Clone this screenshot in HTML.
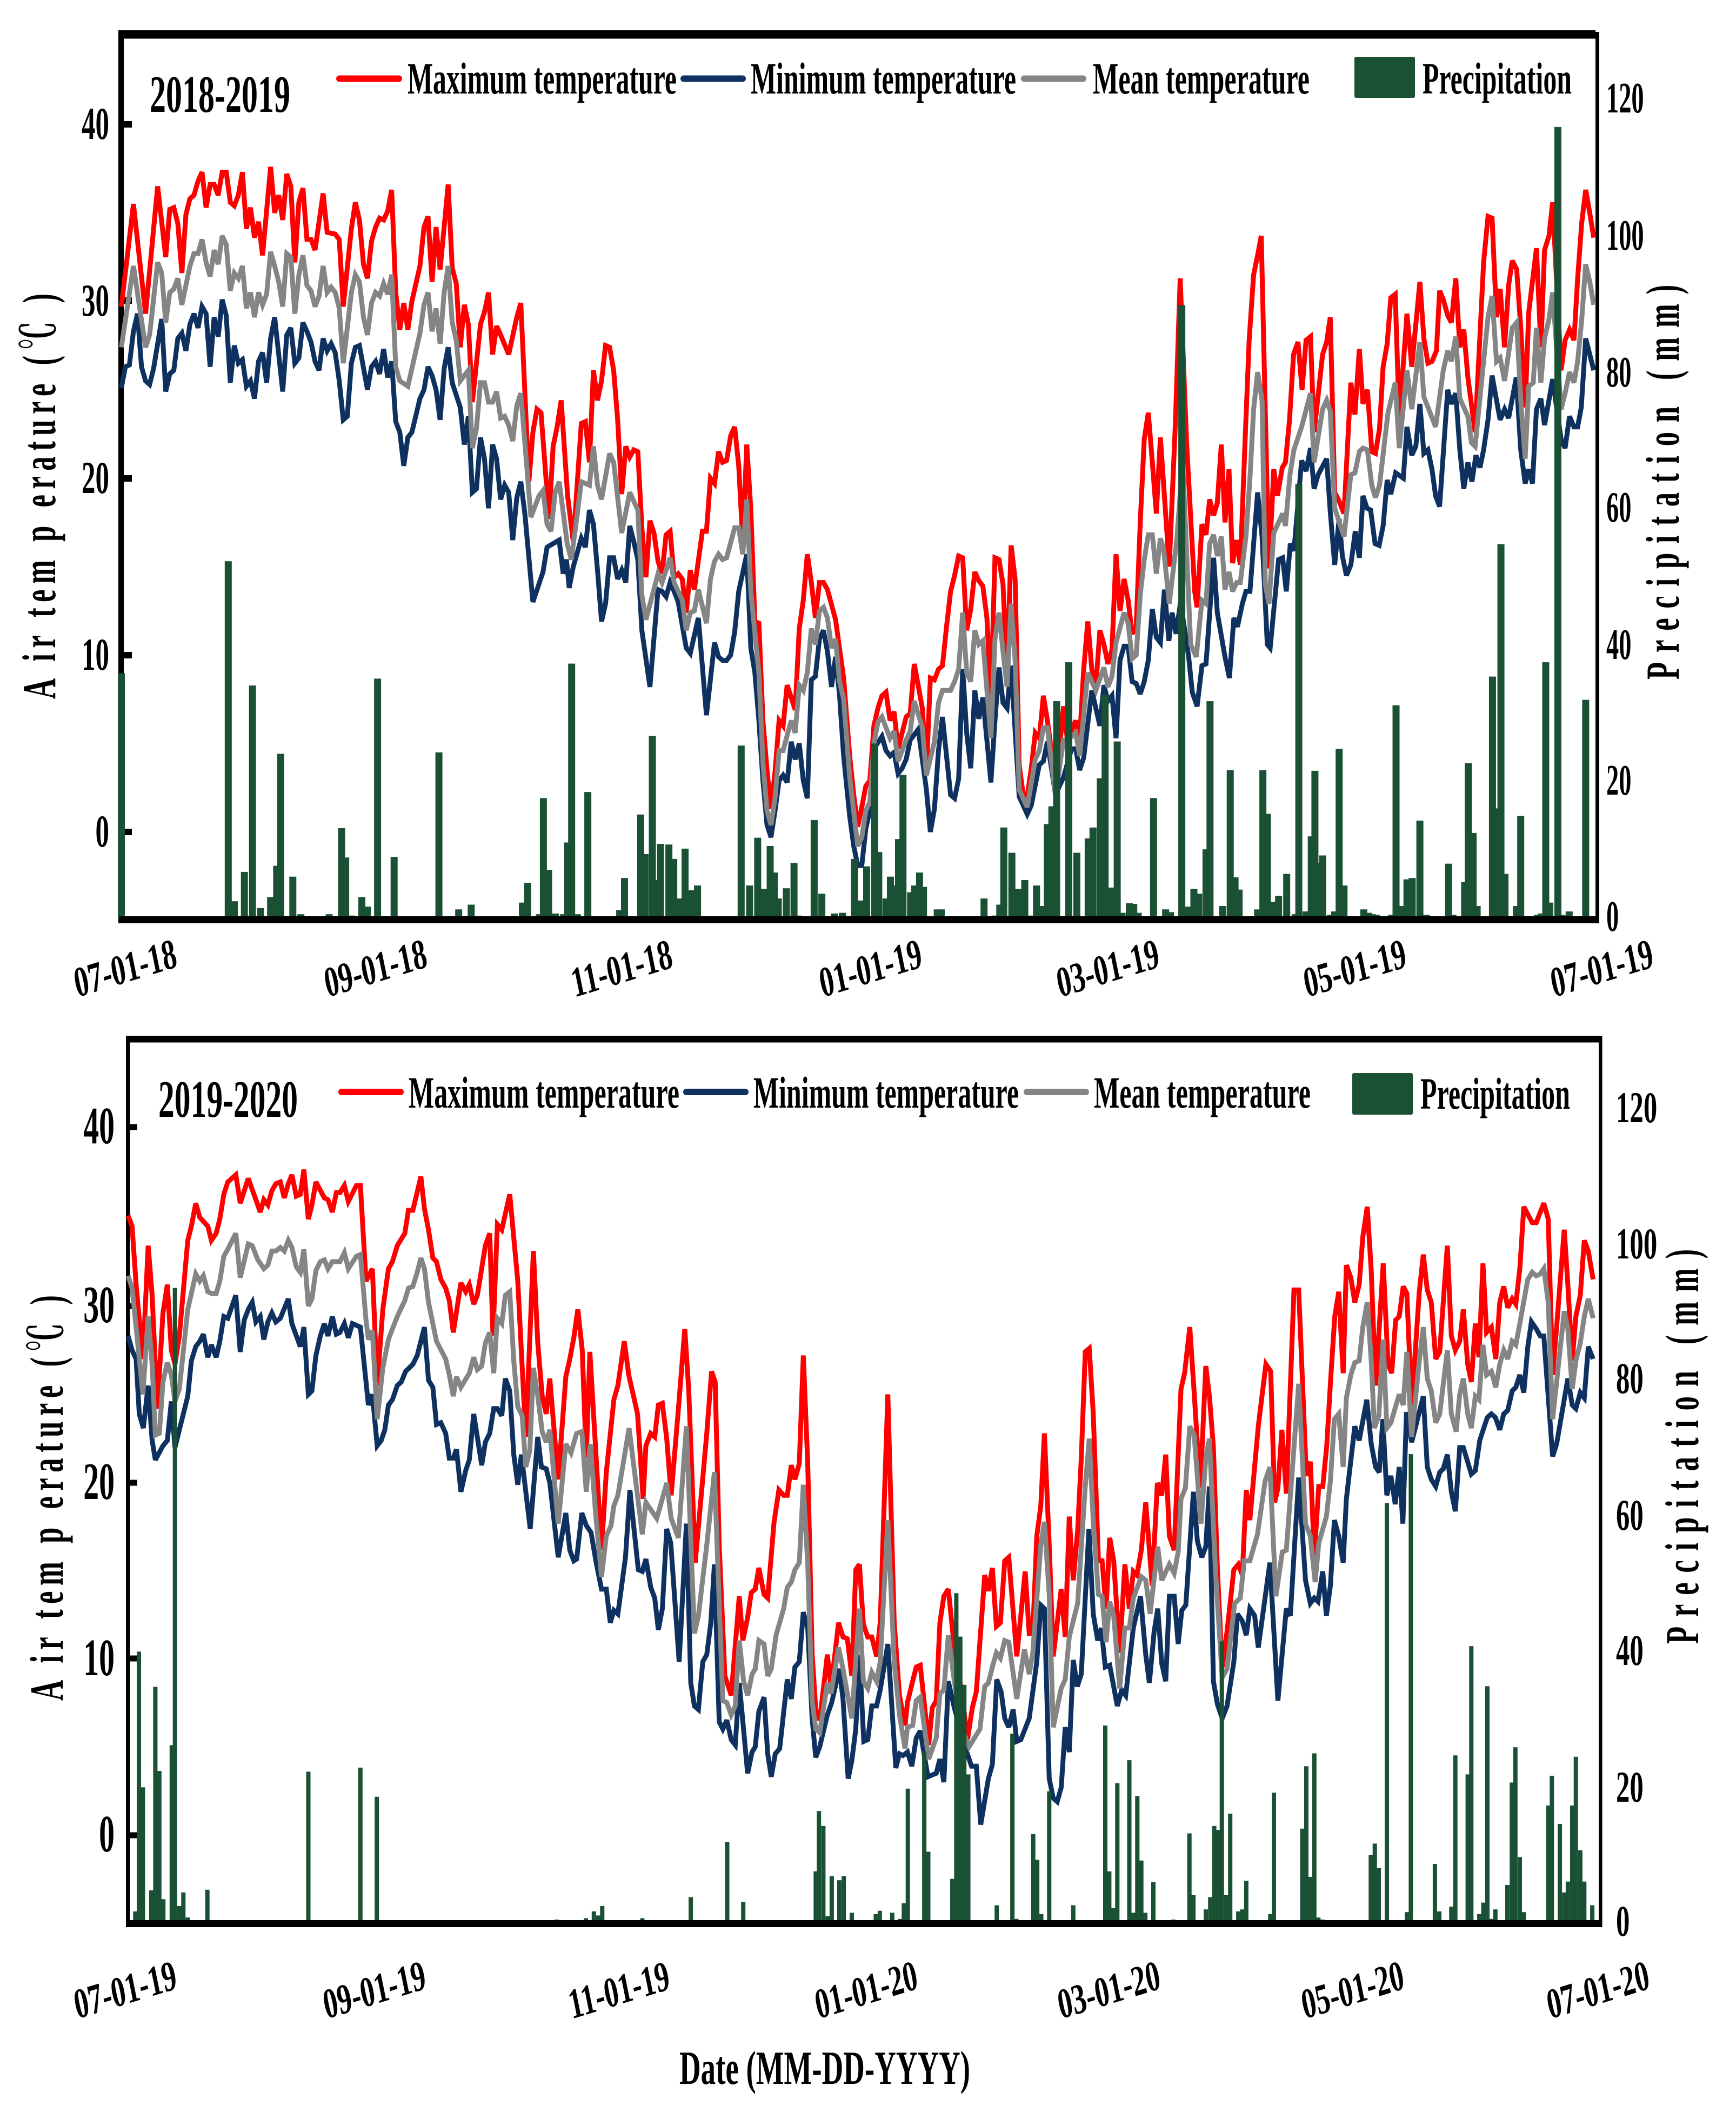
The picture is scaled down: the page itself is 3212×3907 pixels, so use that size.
<!DOCTYPE html>
<html lang="en">
<head>
<meta charset="utf-8">
<title>Air temperature and precipitation 2018-2020</title>
<style>
html,body{margin:0;padding:0;background:#fff}
svg{display:block}
text{font-family:"Liberation Serif","Noto Serif CJK SC",serif;font-weight:bold;fill:#000}
</style>
</head>
<body>
<svg id="chart" xmlns="http://www.w3.org/2000/svg" width="3212" height="3907" viewBox="0 0 3212 3907">
<rect x="0" y="0" width="3212" height="3907" fill="#fff"/>

<g id="panel1">
<rect x="219" y="56" width="10" height="1652" fill="#000"/>
<rect x="219" y="56" width="2733" height="15.5" fill="#000"/>
<rect x="2952" y="59" width="7" height="1649" fill="#000"/>
<rect x="229" y="224" width="15" height="12" fill="#000"/>
<rect x="229" y="550" width="15" height="12" fill="#000"/>
<rect x="229" y="879" width="15" height="12" fill="#000"/>
<rect x="229" y="1206" width="15" height="12" fill="#000"/>
<rect x="229" y="1533" width="15" height="12" fill="#000"/>
<g id="marks1"></g>
<rect x="221" y="1695" width="2738" height="13" fill="#000"/>
<g font-size="85" text-anchor="end">
<text transform="translate(202,257) scale(.6,1)">40</text>
<text transform="translate(202,584) scale(.6,1)">30</text>
<text transform="translate(202,912) scale(.6,1)">20</text>
<text transform="translate(202,1239) scale(.6,1)">10</text>
<text transform="translate(202,1566) scale(.6,1)">0</text>
</g>
<g font-size="80">
<text transform="translate(2972,208) scale(.58,1)">120</text>
<text transform="translate(2972,462) scale(.58,1)">100</text>
<text transform="translate(2972,715) scale(.58,1)">80</text>
<text transform="translate(2972,965) scale(.58,1)">60</text>
<text transform="translate(2972,1219) scale(.58,1)">40</text>
<text transform="translate(2972,1470) scale(.58,1)">20</text>
<text transform="translate(2972,1722) scale(.58,1)">0</text>
</g>
<g font-size="78">
<text transform="matrix(.655,-.2,.2,.986,143,1845)">07-01-18</text>
<text transform="matrix(.655,-.2,.2,.986,606,1845)">09-01-18</text>
<text transform="matrix(.655,-.2,.2,.986,1063,1845)">11-01-18</text>
<text transform="matrix(.655,-.2,.2,.986,1522,1845)">01-01-19</text>
<text transform="matrix(.655,-.2,.2,.986,1961,1845)">03-01-19</text>
<text transform="matrix(.655,-.2,.2,.986,2418,1845)">05-01-19</text>
<text transform="matrix(.655,-.2,.2,.986,2875,1845)">07-01-19</text>
</g>
<text font-size="88" transform="translate(102,1293) rotate(-90) scale(.6,1)" textLength="1250" lengthAdjust="spacing">A ir tem p erature (℃ )</text>
<text font-size="88" transform="translate(3106,1257) rotate(-90) scale(.6,1)" textLength="1217" lengthAdjust="spacing">Precipitation (mm)</text>
<text font-size="98" x="277" y="207" textLength="260" lengthAdjust="spacingAndGlyphs">2018-2019</text>
<g font-size="83">
<line x1="628" y1="145.500" x2="738" y2="145.500" stroke="#ff0000" stroke-width="12" stroke-linecap="round"/>
<text x="754" y="173" textLength="498" lengthAdjust="spacingAndGlyphs">Maximum temperature</text>
<line x1="1265" y1="145.500" x2="1374" y2="145.500" stroke="#0e3160" stroke-width="12" stroke-linecap="round"/>
<text x="1389" y="173" textLength="491" lengthAdjust="spacingAndGlyphs">Minimum temperature</text>
<line x1="1895" y1="145.500" x2="2004" y2="145.500" stroke="#858585" stroke-width="12" stroke-linecap="round"/>
<text x="2022" y="173" textLength="401" lengthAdjust="spacingAndGlyphs">Mean temperature</text>
<rect x="2506" y="105" width="112" height="76" rx="3" fill="#1a5033"/>
<text x="2632" y="173" textLength="276" lengthAdjust="spacingAndGlyphs">Precipitation</text>
</g>
</g>

<g id="panel2">
<rect x="233" y="1916" width="7.500" height="1649" fill="#000"/>
<rect x="233" y="1916" width="2731" height="12.500" fill="#000"/>
<rect x="2958" y="1916" width="6.500" height="1649" fill="#000"/>
<rect x="240" y="2079.500" width="14" height="11" fill="#000"/>
<rect x="240" y="2410.500" width="14" height="11" fill="#000"/>
<rect x="240" y="2737.500" width="14" height="11" fill="#000"/>
<rect x="240" y="3062.500" width="14" height="11" fill="#000"/>
<rect x="240" y="3389.500" width="14" height="11" fill="#000"/>
<g id="marks2"></g>
<rect x="233" y="3552" width="2731" height="13" fill="#000"/>
<g font-size="98" text-anchor="end">
<text transform="translate(212,2115) scale(.59,1)">40</text>
<text transform="translate(212,2446) scale(.59,1)">30</text>
<text transform="translate(212,2773) scale(.59,1)">20</text>
<text transform="translate(212,3099) scale(.59,1)">10</text>
<text transform="translate(212,3425) scale(.59,1)">0</text>
</g>
<g font-size="82">
<text transform="translate(2990,2076) scale(.62,1)">120</text>
<text transform="translate(2990,2328) scale(.62,1)">100</text>
<text transform="translate(2990,2577) scale(.62,1)">80</text>
<text transform="translate(2990,2830) scale(.62,1)">60</text>
<text transform="translate(2990,3080) scale(.62,1)">40</text>
<text transform="translate(2990,3333) scale(.62,1)">20</text>
<text transform="translate(2990,3581) scale(.62,1)">0</text>
</g>
<g font-size="78">
<text transform="matrix(.655,-.2,.2,.986,143,3735)">07-01-19</text>
<text transform="matrix(.655,-.2,.2,.986,604,3735)">09-01-19</text>
<text transform="matrix(.655,-.2,.2,.986,1058,3735)">11-01-19</text>
<text transform="matrix(.655,-.2,.2,.986,1514,3735)">01-01-20</text>
<text transform="matrix(.655,-.2,.2,.986,1963,3735)">03-01-20</text>
<text transform="matrix(.655,-.2,.2,.986,2414,3735)">05-01-20</text>
<text transform="matrix(.655,-.2,.2,.986,2868,3735)">07-01-20</text>
</g>
<text font-size="88" transform="translate(116,3146) rotate(-90) scale(.6,1)" textLength="1250" lengthAdjust="spacing">A ir tem p erature (℃ )</text>
<text font-size="88" transform="translate(3142,3041) rotate(-90) scale(.6,1)" textLength="1217" lengthAdjust="spacing">Precipitation (mm)</text>
<text font-size="98" x="293" y="2066" textLength="258" lengthAdjust="spacingAndGlyphs">2019-2020</text>
<g font-size="83">
<line x1="632" y1="2020" x2="741" y2="2020" stroke="#ff0000" stroke-width="12" stroke-linecap="round"/>
<text x="756" y="2049" textLength="501" lengthAdjust="spacingAndGlyphs">Maximum temperature</text>
<line x1="1270" y1="2020" x2="1379" y2="2020" stroke="#0e3160" stroke-width="12" stroke-linecap="round"/>
<text x="1394" y="2049" textLength="491" lengthAdjust="spacingAndGlyphs">Minimum temperature</text>
<line x1="1900" y1="2020" x2="2009" y2="2020" stroke="#858585" stroke-width="12" stroke-linecap="round"/>
<text x="2024" y="2049" textLength="401" lengthAdjust="spacingAndGlyphs">Mean temperature</text>
<rect x="2502" y="1985" width="112" height="77" rx="3" fill="#1a5033"/>
<text x="2628" y="2051" textLength="277" lengthAdjust="spacingAndGlyphs">Precipitation</text>
</g>
</g>

<text font-size="88" x="1257" y="3855" textLength="538" lengthAdjust="spacingAndGlyphs">Date (MM-DD-YYYY)</text>
</svg>

<script>
// Each reading is [days since 1 July, value]; temperatures in deg C, precipitation in mm.
const maxTemp1819 = [[0,29.7],[3,35.5],[6,29.3],[9,36.5],[11,32.5],[12,35.2],[13,35.3],[14,34.4],[15,31.6],[16,34.9],[17,35.8],[18,36],[19,36.8],[20,37.3],[21,35.3],[22,36.6],[23,36.6],[24,36],[25,37.3],[26,37.3],[27,35.6],[28,35.4],[29,36],[30,37.3],[31,34.1],[32,35.3],[33,33.6],[34,34.5],[35,32.6],[37,37.6],[38,35],[39,36],[40,34.6],[41,37.2],[42,36.5],[43,32.2],[44,35.6],[45,36.4],[46,33.5],[47,33.5],[48,32.9],[50,36.1],[51,33.9],[53,33.8],[54,33.5],[55,29.7],[57,34.1],[58,35.6],[59,34.6],[60,32.1],[61,31.3],[62,33.4],[63,34.2],[64,34.7],[65,34.6],[66,35.1],[67,36.3],[68,30.5],[69,28.4],[70,29.9],[71,28.4],[72,30],[74,32],[75,34.2],[76,34.8],[77,31.1],[78,34.2],[79,31.8],[81,36.6],[82,31.9],[83,31],[84,27.4],[85,29.8],[86,28.7],[87,24.3],[89,28.7],[90,29.4],[91,30.5],[92,27],[93,28.6],[94,28.1],[96,27],[98,29.1],[99,29.9],[101,19.8],[102,22.6],[103,23.9],[104,23.7],[106,17.7],[107,21.8],[108,22.9],[109,24.4],[110.6,19],[112,16.4],[114,23.1],[115,23.2],[116,20.9],[117,26.1],[118,24.4],[119,25.5],[120,27.5],[121,27.4],[122,26.1],[123,23.3],[124,19.1],[125,21.8],[126,21.2],[127,21.6],[128,21.5],[129,17.2],[130,14.4],[131,17.6],[132,16.9],[133,15.3],[134,14.6],[135,16.8],[136,17],[137,14.4],[138,14.6],[139,14.3],[140,12.4],[141,14.8],[142,13.7],[144,17],[145,17],[146,20],[147,19.7],[148,21.5],[149,20.9],[150,21],[151,22.4],[152,22.9],[153,20.7],[154,16.4],[155,21.9],[156,18.2],[157,11.9],[158,11.8],[159,6.3],[160,3.5],[161,1.3],[162,3.4],[163,6.3],[164,6],[165,8.3],[167,6.9],[168,11.5],[169,13.1],[170,15.7],[171,14.1],[172,12.1],[173,14.1],[174,14.1],[175,13.7],[177,12],[179,8.7],[180.5,4.3],[181.5,2.1],[182.5,0.3],[183.5,1.4],[184.5,2.6],[185.5,2.9],[186.5,6],[187.5,7],[188.5,7.7],[189.5,7.9],[190.5,6.3],[191.5,6.8],[192.5,4.7],[194.5,6.5],[195.5,6.7],[196.5,9.5],[198.5,7],[199.5,3.4],[200.5,8.7],[201.5,8.6],[202.5,9.2],[203.5,9.4],[204.5,11.6],[205.5,13.6],[206.5,14.5],[207.5,15.6],[208.5,15.5],[209.5,11.4],[210.5,12.6],[211.5,14.7],[212.5,14.2],[213.5,13.9],[214.5,12.1],[215.5,7.5],[216.5,15.5],[217.5,15.4],[218.5,14],[219.5,9],[220.5,16.2],[221.5,14.3],[222.5,3.8],[223.5,2.1],[224.5,2],[225.5,3.6],[226.5,5.6],[227.5,5.3],[228.5,7.7],[229.5,6.3],[230.5,4.6],[231.5,2.9],[232.5,4.7],[233.5,7.1],[234.5,5.1],[235.5,5.7],[236.5,6.3],[237.5,5.3],[238.5,9.2],[239.5,11.9],[240.5,9.2],[241.5,8.2],[242.5,11.4],[243.5,10.6],[244.5,9.5],[245.5,10.3],[246.5,15.7],[247.5,12.5],[248.5,14.3],[249.5,13.1],[250.5,11.2],[251.5,11.6],[252.5,17.5],[253.5,22.2],[254.5,23.7],[255.5,20.9],[256.5,18],[257.5,22.3],[259.7,15],[261.2,23],[262.4,31.3],[264,22],[266,13.6],[266.6,12.7],[267.8,17.4],[268.8,16.8],[269.7,18.8],[270.7,17.9],[271.6,18.6],[272.6,21.9],[273.5,17.5],[274.5,20.5],[275.4,15.2],[276.4,16.5],[277.3,15.1],[278.5,22.2],[279.5,27.8],[280.6,31.5],[281.6,32.6],[282.5,33.7],[284.4,14.9],[285.6,20.5],[286.5,19],[287.7,20.6],[288.5,20.9],[289.5,23.3],[290.5,27],[291.6,27.7],[292.6,25],[293.6,27.8],[294.7,28],[295.6,22.6],[297.7,27],[298.7,27.7],[299.6,29.1],[300.7,19.2],[301.8,18.7],[303,18],[304.7,25.4],[305.7,23.6],[306.8,27.3],[307.7,24.2],[308.8,25],[309.9,21.5],[310.8,21.4],[311.8,22.8],[312.7,26.3],[313.7,27.6],[314.6,30.2],[315.7,30.4],[316.7,23.3],[318.6,29.3],[319.8,26.3],[321.8,31.1],[322.8,27.9],[323.8,26.5],[324.8,26.6],[325.9,27.2],[326.7,30.6],[327.6,30.1],[328.7,29.2],[329.6,28.8],[330.7,31.3],[331.7,27.4],[332.7,28.4],[333.7,25.7],[335.5,22.6],[337.6,32.2],[338.7,34.8],[339.7,34.7],[340.8,29.1],[341.7,30.7],[342.8,27.4],[343.8,30.9],[344.7,32.3],[345.8,31.8],[346.8,28.5],[347.9,24],[348.8,29.4],[350.7,33],[351.8,27.4],[352.7,32.9],[353.8,33.7],[354.7,35.6],[356.8,26.1],[357.8,27.8],[358.9,28.4],[360,27.8],[360.9,31.3],[361.9,34.4],[362.9,36.3],[363.9,35],[364.9,33.6]];

const minTemp1819 = [[0,25.1],[1,26.3],[2,26.4],[3,28.3],[4,29.3],[5,26.3],[6,25.5],[7,25.3],[8,26.2],[10,29],[11,24.9],[12,25.9],[13,26.1],[14,27.9],[15,28.2],[16,27.2],[17,28.7],[18,29.3],[19,28.5],[20,29.7],[21,29.3],[22,26.3],[23,29.1],[24,28],[25,30.1],[26,29.2],[27,25.4],[28,27.5],[29,26.5],[30,26.7],[31,25.2],[32,25.5],[33,24.5],[34,26.6],[35,27.1],[36,25.4],[37,27.9],[38,29.1],[40,24.9],[41,28.1],[42,28.5],[43,26.5],[44,26.8],[45,28.8],[46,28.3],[47,27.7],[48,26.6],[49,26.1],[50,27.9],[51,27.2],[52,27.6],[53,27.1],[54,25.5],[55,23.3],[56,23.5],[57,26.5],[58,27.4],[59,27.5],[61,25],[62,26.3],[63,26.6],[64,25.9],[65,27.3],[66,25.7],[67,26.6],[68,23.2],[69,22.6],[70,20.7],[71,22.3],[72,22.6],[74,24.5],[75,25],[76,26.3],[77,25.8],[78,25],[79,23.3],[80,26.2],[81,27.4],[82,25.4],[84,24],[85,21.9],[86,23.5],[87,19.2],[88,19.4],[89,22.3],[90,21.1],[91,18.3],[92,21.9],[93,21.1],[94,18.8],[95,19.6],[96,19.2],[97,16.5],[98,18.9],[99,19.8],[100,18],[102,13],[104.5,14.7],[105.5,16.1],[108.5,16.5],[109.5,14.6],[110.3,15.4],[111,13.8],[112,15],[113,15.8],[114,16.6],[115,16.1],[116,18.2],[117,17.4],[118,14.8],[119,11.9],[120,12.9],[121,15.5],[122,15.5],[123,14.3],[124,14.8],[125,14.1],[126,17.3],[127,16.4],[128,15.4],[129,11.4],[131,8.2],[133,13.7],[134,13.6],[135,13.3],[136,14.1],[137,13.6],[138,13],[140,10.4],[141,10.1],[143,12.1],[145,6.6],[147,10.7],[148,9.9],[149,9.7],[150,9.7],[151,10],[152,11.3],[153,13.6],[155,15.7],[156,10.4],[157,9],[158,6.3],[159,2.9],[160,0.4],[161,-0.3],[162,1.2],[163,2.9],[164,3.2],[165,2.8],[166,5.1],[167,4.1],[168,5],[169,2.9],[170,1.9],[171,8.6],[172,8.8],[173,10.9],[174,11.4],[175,10.2],[176,8.2],[177,9.9],[178,7.7],[179,4.3],[180.5,0.9],[181.5,-0.8],[182.5,-1.9],[183.5,-1.9],[184.5,0.2],[185.5,1.2],[186.5,4.7],[188.5,5.4],[189.5,4.6],[190.5,4.3],[191.5,4.5],[192.5,3.3],[193.5,3.6],[194.5,4.1],[195.5,5.2],[197.5,5.8],[199.5,2.4],[200.5,0],[201.5,1.3],[202.5,4.6],[203.5,6.5],[205.5,2.1],[206.5,1.9],[207.5,3],[208.5,9.2],[209.5,5.6],[210.5,3.6],[211.5,8],[212.5,6.4],[213.5,7.6],[215.5,2.8],[216.5,6.3],[217.5,9.3],[218.5,7.3],[219.5,7],[220.5,9.4],[222.5,2],[223.5,1.5],[224.5,1],[225.5,1.5],[227.5,3.8],[228.5,4],[229.5,5.1],[231.5,2.1],[233.5,3.1],[235.5,4.7],[236.5,4.7],[237.5,3.5],[238.5,4.2],[240.5,8],[242.5,6],[243.5,8.3],[244.5,7.4],[245.5,7.7],[246.5,5.3],[247.5,9.7],[248.5,10.5],[249.5,10.5],[250.5,8.5],[251.5,8.4],[252.5,7.8],[253.5,8.5],[254.5,9.7],[255.5,12.6],[256.5,11],[257.5,10.7],[258.5,13.7],[259.6,10.8],[260.4,12.4],[261.4,11.2],[262.5,13],[264.5,9.9],[265.4,7.9],[266.6,7.1],[267.8,9.4],[268.8,9.5],[270.7,15.5],[271.6,12.4],[273.5,9.9],[274.6,8.7],[275.7,12.1],[276.6,11.6],[277.8,12.9],[278.7,13.6],[279.7,13.6],[281.6,19.2],[282.7,16.7],[284,10.6],[284.7,10.4],[286.8,15.4],[287.8,15.5],[288.7,13.6],[289.7,16.3],[290.6,15.9],[292.5,21],[293.6,20.4],[294.7,21.7],[295.6,19.4],[296.6,20.2],[298.7,21.1],[299.6,18.1],[300.7,15.1],[301.8,17.7],[302.6,15.6],[303.6,14.5],[304.7,15.1],[305.8,17],[306.8,15.5],[307.7,19],[308.7,18.3],[309.6,18.2],[310.7,16.3],[311.7,16.2],[312.7,17.3],[313.7,19.9],[314.6,19.1],[315.8,20.3],[317.7,20],[318.6,22.9],[319.8,21.3],[320.8,21.8],[321.8,24.2],[322.8,21.4],[323.8,21.6],[324.8,20.5],[325.7,19],[326.7,18.4],[328.7,25],[329.6,24.2],[330.7,24.8],[331.7,21.6],[332.7,19.4],[333.7,20.9],[334.7,19.8],[335.7,21.3],[336.7,20.6],[337.6,21.6],[338.7,23.3],[339.7,25.8],[340.8,24.4],[341.7,23.3],[342.8,23.9],[343.8,23.4],[345.7,25.7],[346.8,21.6],[347.9,19.7],[348.8,20.5],[349.7,19.7],[350.7,23.9],[351.8,24.5],[352.7,23],[354.7,25.6],[356.8,22.2],[357.8,21.7],[358.9,23.5],[360,22.9],[360.9,22.9],[361.8,24],[362.9,27.9],[364.9,26.1]];

const meanTemp1819 = [[0,27.4],[3,32],[6,27.4],[7,28.1],[9,32.2],[10,31.6],[11,28.8],[12,30.5],[13,30.7],[14,31.3],[15,29.8],[17,32],[18,32.7],[19,32.7],[20,33.5],[21,32.2],[22,31.4],[23,32.9],[24,32.1],[25,33.7],[26,33.2],[27,30.6],[28,31.6],[29,31.3],[30,32],[31,29.6],[32,30.5],[33,29.1],[34,30.5],[35,29.8],[36,30.4],[37,32.8],[38,32],[39,31.1],[40,29.7],[41,32.7],[42,32.5],[43,29.3],[44,31.5],[45,32.6],[46,30.9],[47,30.6],[48,29.7],[49,30.3],[50,32],[51,30.5],[52,30.8],[53,30.5],[54,29.6],[55,26.5],[57,30.5],[58,31.5],[59,31.1],[60,29.1],[61,28.1],[62,29.9],[63,30.5],[64,30.3],[65,31],[66,30.4],[67,31.5],[68,26.3],[69,25.5],[71,25.2],[74,28.2],[75,29.8],[76,30.5],[77,28.3],[78,29.6],[79,27.6],[80,30.5],[81,32],[82,28.8],[83,27.8],[84,25.5],[86,26.1],[87,21.7],[88,22.8],[89,25.4],[90,25.4],[91,24.3],[92,24.3],[93,24.9],[94,23.4],[95,23.5],[96,23],[97,22.1],[98,24.1],[99,24.8],[101.5,17.8],[103.5,19],[104.5,19.3],[105.5,17.4],[106.5,17],[107.5,19.2],[108.5,19.8],[110.5,16.3],[111.5,15.4],[113,18],[114,19.8],[116,19.6],[117,21.8],[118,19.6],[119,18.8],[121,21.4],[122,20.9],[124,16.9],[126,19.2],[128,18.2],[129,13.4],[130,12],[133,14.6],[134,14.1],[136,15.5],[137,14.1],[139,13.1],[140,11.4],[141,12.4],[142,12.5],[143,13.7],[145,11.8],[146,14.3],[147,15.3],[148,15.7],[149,15.4],[150,15.5],[152,17.2],[153,17.2],[154,15.7],[155,18.8],[156,13.6],[158,9],[159,3.9],[160,1.2],[161,0.4],[162,1.9],[163,4.6],[164,4.6],[166,6.3],[167,5.6],[168,8.3],[169,8],[170,9],[171,11.5],[172,10.6],[173,12.5],[174,12.7],[175,12.1],[176,10.4],[177,10.9],[178,8.5],[179,7.5],[180.5,3.1],[182.5,-0.8],[183.5,-0.3],[184.5,1.2],[185.5,1.7],[186.5,5],[187.5,6.2],[188.5,6.5],[190.5,5.3],[191.5,5.7],[192.5,4],[194.5,5.2],[195.5,5.7],[196.5,7.4],[198.5,5.9],[199.5,3.2],[201.5,5.1],[202.5,7.3],[203.5,8],[205.5,8],[206.5,8.5],[207.5,9.2],[208.5,12.4],[209.5,9],[210.5,8.5],[211.5,11.4],[212.5,10.6],[213.5,10.8],[215.5,5.3],[216.5,10.9],[217.5,12.4],[218.5,10.2],[219.5,8.2],[220.5,12.9],[221.5,9.7],[222.5,2.4],[224.5,1.4],[226.5,4.1],[227.5,4.6],[228.5,5.9],[229.5,5.9],[231.5,2.1],[233.5,5.2],[234.5,5.2],[236.5,5.6],[237.5,4.3],[239.5,9],[241.5,8],[243.5,9.3],[244.5,8.2],[245.5,8.8],[246.5,10.7],[248.5,12.4],[249.5,11.8],[250.5,9.8],[251.5,10],[252.5,13.4],[253.5,15.4],[254.5,16.8],[255.5,16.8],[256.5,14.6],[257.5,16.6],[258.3,16],[259.7,12.9],[261.6,16.6],[263,21],[265,10.6],[266.4,9.9],[267.8,13.1],[268.8,12.9],[269.7,16.3],[270.7,16.8],[271.6,15.6],[272.6,16.7],[273.5,13.7],[274.5,14.7],[275.4,13.6],[276.4,14.1],[277.3,14.1],[278.7,16.7],[279.7,20],[280.6,23.9],[281.6,26],[282.7,24.4],[283.5,14],[284.4,12.9],[285.6,16.9],[287.8,18],[288.5,17.3],[289.6,20.2],[290.6,21.6],[292.5,22.9],[294.7,24.8],[295.6,20.9],[297.7,23.9],[298.7,24.4],[299.6,23.8],[300.7,18.3],[303,16.7],[304.7,20.2],[305.7,20.3],[306.8,21.5],[307.7,21.7],[308.8,21.6],[309.9,19.6],[310.8,18.9],[311.8,19.6],[313.9,23.7],[315.7,25.4],[316.7,21.7],[318.6,26.1],[319.8,23.9],[321.8,27.7],[322.8,24.6],[325.7,22.9],[327.6,26.1],[328.7,27.2],[329.6,26.6],[330.7,28],[331.7,24.5],[333.7,23.5],[334.6,22],[335.5,21.8],[337.6,26.6],[338.7,29.1],[339.7,30.3],[340.8,26.6],[341.7,26.8],[342.8,25.5],[344.7,28.5],[345.8,28.8],[346.8,24.4],[347.9,21.1],[348.8,25.2],[349.9,25.4],[350.7,28.5],[351.8,25.4],[352.7,27.9],[353.8,29],[354.7,30.5],[356.8,23.9],[357.8,24.8],[358.9,26],[360,25.4],[360.9,26.6],[361.9,28.9],[362.9,32.1],[363.9,31.1],[364.9,29.8]];

const precip1819 = [[0,36],[26.5,52.4],[28,2.6],[30.5,6.9],[32.5,34.2],[34.5,1.6],[37,3.2],[38.5,7.8],[39.5,24.2],[42.5,6.2],[44.5,0.7],[51.5,0.7],[54.6,13.3],[55.6,9],[57,0.5],[59.6,3.2],[61,1.8],[63.5,35.2],[67.6,9.1],[78.7,24.4],[83.6,1.4],[86.7,2.1],[99.4,2.4],[100.7,5.3],[103.6,0.7],[104.6,17.7],[105.9,7.2],[107.6,0.8],[109.6,0.7],[110.6,11.2],[111.6,37.4],[113,0.7],[115.6,18.6],[123.5,1.3],[124.7,6],[128.7,15.3],[129.8,9.5],[131.6,26.8],[132.7,5.7],[133.6,11],[135.7,10.9],[136.9,8.8],[138,3],[139.7,10.3],[141.3,4.2],[142.8,4.9],[153.6,25.4],[155.7,4.9],[157.7,11.9],[159.3,4.4],[160.8,10.7],[161.8,6.8],[162.8,3],[164.8,4.5],[166.7,8.2],[167.7,0.5],[171.7,14.5],[173.6,3.7],[176.7,0.8],[178.7,0.9],[181.7,8.8],[183.4,2.7],[184.7,7.7],[186.7,25.7],[187.7,9.8],[189.5,3],[190.6,6.2],[191.6,4.9],[192.6,11.7],[193.7,21.1],[195.6,3.9],[196.6,4.9],[197.8,6.8],[198.8,4.7],[202.2,1.4],[203.2,1.4],[213.8,3],[216.6,0.5],[217.7,2.1],[218.7,13.4],[220.7,9.7],[222.4,4.4],[223.9,5.7],[225.4,0.5],[226.8,4.9],[228.4,1.9],[229.5,13.9],[230.6,16.5],[231.8,31.9],[234.8,37.6],[236.8,9.7],[239.6,11.8],[240.8,13.4],[242.6,20.6],[243.8,32.8],[245.1,4.6],[246.8,26],[248,0.9],[249.8,2.3],[250.9,2.2],[252,0.9],[255.8,17.7],[258.8,1.4],[260,1],[262.8,89.9],[264.5,1.8],[265.8,4.4],[267,3.7],[268.8,10.2],[269.8,31.9],[272.9,1.9],[274.8,21.8],[276,6.1],[277,4.3],[281.6,1.4],[282.9,21.8],[284,15.4],[285.6,2.5],[286.8,3.4],[288.8,6.6],[290.9,0.7],[291.8,63.7],[293.6,1.1],[294.9,12.1],[295.8,21.7],[296.8,8.2],[297.7,9.3],[299.6,0.6],[300.7,1.1],[301.8,24.9],[303,4.9],[307.9,1.4],[309,0.9],[310,0.7],[311,0.6],[314.8,0.6],[315.9,31.3],[317.4,1.9],[318.6,5.8],[319.9,6],[321.8,14.4],[323.4,0.6],[328.9,8.1],[330,0.6],[332.9,5.4],[333.8,22.8],[335,12.6],[336,1.9],[339.8,35.5],[341,16.2],[341.9,54.9],[342.9,6.6],[345.7,1.9],[346.8,15.1],[351,0.6],[351.9,0.8],[353,37.6],[354,2.4],[356,116],[357,0.6],[358.8,1.1],[362.9,32.1]];

const maxTemp1920 = [[0,35],[1,34.4],[2,31.1],[3.7,26.9],[5,33.3],[6,30.5],[7.3,24.1],[8.7,29.5],[9.8,31.1],[10.8,27.4],[11.7,26.6],[12.8,28.2],[14.9,33.6],[15.8,34.4],[16.9,35.7],[17.9,34.9],[19.9,34.4],[20.8,33.6],[22,34],[22.9,34.8],[23.9,36.2],[24.9,36.9],[26.9,37.3],[28,35.7],[30,37.1],[31.9,35.9],[33,35.2],[33.9,35.9],[34.9,35.6],[35.9,36.4],[36.9,36.8],[38,36.9],[39,36],[40,36.8],[40.9,37.3],[42,36.1],[43,36.2],[43.9,37.6],[45,34.8],[45.9,35.6],[46.9,36.9],[49,36],[49.9,35.9],[51,35.2],[52,36.3],[52.9,36.3],[54,36.7],[55,35.8],[57,36.7],[58,36.7],[59.4,31.3],[61,32],[62.2,25.4],[63.6,29.7],[65,32],[66,32.4],[67.2,33.3],[69.1,34],[70,35.3],[71.1,35.3],[73.1,37.2],[74,35.4],[75,34.2],[76.1,32.6],[77,32.4],[78.1,31.4],[79.3,30.9],[80.2,30.2],[81.2,28.4],[83.1,31.2],[84.3,30.7],[85.2,31.1],[86.3,30],[87.2,30.5],[89.2,33.3],[90.3,34],[91.1,28.2],[92.2,34.5],[93.3,34.2],[95.3,36.2],[97.3,31.3],[99.3,22.5],[101.2,33],[102.3,27.8],[103.4,24.8],[104.4,23.8],[105.3,25.8],[107.4,20.1],[109.3,25.9],[110.3,26.9],[111.3,28.1],[112.3,29.7],[113.4,27.4],[114.4,21.3],[115.3,27.3],[116.8,21.6],[118.2,16.1],[119.4,20.5],[121.3,24.6],[122.3,25.4],[123.9,27.9],[125,26],[127.2,23.8],[128.6,19],[129.3,22],[130.5,22.7],[131.5,22.5],[132.4,24.3],[133.4,24.4],[134.5,22.4],[135.6,19.2],[137.6,24.6],[139,28.6],[140,25.1],[141.6,15.4],[143.3,19.7],[144.5,22.7],[145.7,26.2],[146.6,25.6],[147.6,16.4],[149,9],[150.6,7.9],[152.6,13.5],[153.5,11],[154.7,12.3],[155.6,13.7],[156.6,13.9],[157.5,15.1],[158.8,13.6],[159.7,13.4],[161.3,17.7],[162.5,19.5],[163.7,19.2],[164.6,19.2],[165.6,20.9],[166.5,20.1],[167.6,21],[168.6,27.1],[169.7,21],[170.8,10.3],[171.7,7.1],[172.7,6.5],[174.6,10.2],[175.5,8.3],[177.4,12],[178.5,11.2],[179.6,11.1],[180.7,9],[181.7,15],[182.6,15.3],[183.6,11.9],[184.7,11.2],[185.7,11.2],[186.9,10.1],[187.8,12],[189.7,24.9],[191.3,12],[192.6,7.9],[194,6.2],[194.6,7.5],[195.9,8.7],[196.8,9.5],[197.8,9.6],[199.9,5.1],[200.8,7.2],[201.8,7.6],[202.7,12],[203.7,13.5],[204.8,13.9],[206.3,10.6],[208.2,8],[209.6,5.4],[210.8,7.2],[211.8,8.1],[213.9,14.7],[214.8,13.8],[215.8,15.1],[216.8,11.8],[217.8,12],[218.9,15.5],[219.9,15.7],[221.9,10.1],[224,14.9],[225,11.4],[225.9,11.4],[226.9,16.9],[227.9,18.6],[228.8,22.7],[230,16.4],[231,10.1],[233,13.9],[234,11.2],[235,18],[236,14.4],[237.1,17.2],[238,21.3],[239,27.3],[240,27.5],[241,23.8],[242.3,15.5],[243.2,15.5],[244.2,12.8],[245.1,16.8],[246.1,15.5],[247.6,10.3],[248.9,15.3],[250,12.8],[251,14.9],[251.9,14.7],[253,16.1],[254.1,18.8],[255.7,14.1],[257,19.9],[258.1,19.2],[259.1,21.5],[260,16.9],[261.2,16.1],[262.9,25.2],[263.8,26.1],[265.1,28.7],[266.2,25],[267.7,19.6],[269.1,26.5],[270,24.8],[271,21.9],[272,15],[273.2,9.5],[274.4,11.5],[276.1,15],[277.2,15.3],[278.2,14.7],[279.2,19.5],[280.1,17.8],[282.2,23.1],[284.1,26.6],[285.3,26.2],[286.3,18.8],[287.1,19.6],[288.1,22.9],[289.2,19.3],[291.1,30.8],[292.3,30.8],[294.2,20.3],[295.2,21.1],[296.2,15.8],[297.3,19.7],[298.3,19.7],[299.3,22],[300.2,25.5],[301.3,29.3],[302.3,30.7],[303.4,26.1],[304.2,32.2],[305.3,31.5],[306.3,30.1],[307.4,31.1],[308.3,33.8],[309.4,35.5],[310.4,31.9],[311.5,25.4],[313.4,32.3],[314.6,26.6],[315.5,26.1],[316.5,29.1],[317.4,29.3],[318.4,31],[319.3,30.6],[320.5,24.3],[322.4,30.7],[323.4,32.8],[324.4,30.8],[325.4,30.1],[326.5,26.9],[327.5,27.3],[329.4,33.3],[330.4,28.2],[331.4,27.4],[332.5,27.9],[333.4,29.7],[334.5,26.6],[335.4,25.6],[336.4,28.9],[337.3,27],[338.3,32.3],[339.2,28.4],[340.4,28.7],[341.5,26.9],[342.5,30.1],[343.5,31],[344.5,29.8],[345.6,30.3],[346.5,30],[347.5,32],[348.5,35.5],[350.6,34.6],[351.6,34.6],[353.5,35.7],[354.6,34.8],[355.7,26],[356.7,28.7],[358.6,34.2],[359.5,31.1],[360.6,26.8],[361.5,29.3],[362.6,30.5],[363.6,33.6],[364.6,33],[365.8,31.4]];

const minTemp1920 = [[0,28.2],[1,27.4],[2,26.9],[2.8,23.8],[3.8,23],[5,25.4],[6,22.3],[6.8,21.2],[8.7,22],[9.8,22.3],[10.8,24.5],[11.7,21.9],[14.9,24.8],[15.8,26.8],[16.9,27.6],[17.9,27.9],[18.8,28.3],[19.9,27],[20.8,27.7],[22,27],[22.9,27.9],[23.9,29.3],[24.9,29.2],[26.9,30.5],[28,27.3],[29,29.1],[30,29.7],[31,30.1],[31.9,29],[33,29.3],[33.9,28],[34.9,29],[35.9,29.5],[36.9,29],[38,29.2],[40,30.3],[40.9,28.9],[43,27.6],[43.9,28.7],[45,24.9],[45.9,25.1],[46.9,27.1],[48,28.2],[49,28.9],[49.9,28.2],[51,29.3],[52,28.3],[52.9,28.4],[54,28.9],[55,28.1],[56,28.9],[58,28.7],[60,24.3],[61,24.9],[62.2,22],[63.2,22.3],[64.1,22.9],[65,24.3],[66,24.6],[67.2,25.4],[68.2,25.6],[69.3,26.2],[71.1,26.6],[72.2,27.1],[74,28.7],[75,25.7],[76.1,25.3],[77,23.2],[78.1,23.3],[79.3,22.7],[80.2,21.3],[81.2,21.3],[82,21.8],[83.1,19.4],[84.3,20.6],[85.2,21.2],[86.3,23.8],[88.3,20.9],[89.2,22.2],[90.3,22.7],[91.3,24.1],[92.2,24.1],[93.3,23.7],[94.2,25.8],[95.3,25.1],[96.3,21.5],[97.3,19.8],[98.2,21.5],[100.4,17.3],[102.3,22.5],[103.2,20.8],[104.4,20.7],[105.3,19.9],[107.4,15.7],[109.3,18.2],[110.3,16.1],[111.3,15.5],[112,15.6],[113.3,18.2],[114.4,17.5],[115.6,17.1],[116.8,15.5],[118.2,13.9],[119.4,13.9],[120.4,12],[121.3,12.7],[122.3,12.5],[124.2,15.7],[125.3,19.5],[127.4,15],[128.4,14.9],[129.3,15.6],[130.5,14],[131.5,13.4],[132.4,11.6],[133.4,12.8],[134.5,17.3],[135.5,16.5],[137.6,9.8],[139.4,17.6],[140.5,8.6],[141.4,7.3],[142.4,7.1],[143.5,9.8],[144.5,10.2],[145.5,12],[146.4,15.3],[147.6,6.4],[148.5,6],[149.5,6.5],[150.6,5.4],[151.6,5.1],[152.6,8.6],[154.7,3.5],[155.8,4.7],[156.6,5],[157.5,7],[158.8,7.8],[159.7,4.6],[160.6,3.3],[161.6,4.6],[162.7,4.9],[164.6,8.8],[165.6,7.7],[166.5,9.5],[167.6,9.8],[168.6,12.6],[169.7,11.7],[170.8,6.6],[171.7,4.4],[172.7,5],[174.6,6.8],[175.7,7.5],[177.6,9.4],[178.5,7.7],[179.8,3.2],[180.7,4.2],[181.7,6],[182.6,10.2],[183.7,5.3],[184.7,5.4],[185.7,7.3],[186.9,7.3],[187.8,8.2],[189.7,10.8],[191.7,3.8],[192.6,4.6],[193.5,4.5],[194.6,4.7],[195.7,3.9],[196.8,5.5],[197.8,5.9],[199.7,3.3],[201.8,3.5],[202.7,4.3],[203.7,3],[204.8,8.7],[206.3,7.2],[209.1,4.9],[210.6,3.9],[211.8,3.9],[212.9,0.6],[214.8,3.2],[215.8,4],[216.9,8.8],[218,8.1],[218.9,6.6],[219.9,6.1],[221,7.1],[221.9,5.3],[222.9,5.4],[225,6.6],[226.9,9.8],[227.9,13],[228.8,12.8],[230,3.2],[231,2.1],[232,1.9],[233,2.7],[234,6.1],[235,4.7],[236,9.9],[237,8.4],[238,9.1],[239.9,17.3],[241,12.5],[242.1,11],[243,11.7],[244,9.5],[245.1,9.6],[247,7.3],[248.1,8.2],[249.1,7.9],[251,11.7],[252.8,13.5],[254.1,10.2],[255,8.6],[256.2,11.5],[257.1,12.8],[258.1,9.7],[259.1,8.7],[260,13.5],[261.2,13.5],[262.2,10.8],[263.1,12.7],[264.1,13],[266,19.4],[267,16.6],[268.1,15.7],[269.1,16.3],[270,19.7],[271,8.7],[272,7.4],[273.2,6.6],[274.4,7.3],[276.1,9.8],[277,12.5],[278.2,12.1],[279.2,11.3],[280.1,12.8],[281.3,12.4],[282.2,10.6],[285.1,15.4],[287.1,7.6],[289.2,12.8],[290.2,12.4],[292.3,20.2],[294,14.4],[295.2,13.1],[296.2,13.4],[297.1,13.2],[298.3,14.9],[299.2,12.4],[300.2,14.1],[301.2,17.8],[302.3,16.9],[303.4,15.4],[304.2,19],[306.3,23.1],[307.4,22.3],[309.3,24.6],[310.4,22.1],[311.5,20.8],[312.4,20.5],[313.3,23.5],[314.3,19.2],[315.3,20.3],[316.4,18.7],[317.4,20.8],[318.3,17.6],[319.2,23.9],[320.5,22.2],[322.4,23.9],[323.4,24.8],[324.4,20.8],[325.4,20.1],[326.5,19.7],[327.5,20.5],[328.4,20.7],[329.4,21.5],[330.4,19.4],[331.4,18.3],[332.5,21.9],[333.4,21.9],[335.4,20.4],[336.4,20.6],[337.5,22.3],[338.5,23],[339.4,23.6],[340.4,23.8],[341.4,23.6],[342.5,22.9],[343.5,23.8],[344.5,24],[345.6,25.1],[346.5,25.3],[347.5,26],[348.5,25],[349.5,27.6],[350.4,29],[351.6,28.6],[352.6,28.2],[353.5,28.2],[355.7,21.4],[356.7,22.1],[359.5,25.8],[360.6,24.3],[361.5,24.1],[362.6,25],[363.6,24.7],[364.6,27.6],[365.8,26.9]];

const meanTemp1920 = [[0,31.6],[1,30.9],[2,28.7],[3.7,24.9],[5,29.3],[6,26.6],[6.8,22.6],[7.8,22.7],[8.7,25.6],[9.8,26.7],[10.8,26],[11.7,24.5],[12.8,25.2],[14.9,29.7],[16.9,31.7],[17.9,31.3],[18.8,31.6],[19.9,30.7],[20.8,30.6],[22,30.6],[22.9,31.3],[23.9,32.7],[24.9,33.1],[26.9,34],[28,31.5],[30,33.4],[31,33.3],[32.4,32.5],[33.9,32],[34.9,32.2],[35.9,33],[36.9,33],[38,33.2],[39,33],[40,33.6],[40.9,33.2],[42,32.1],[43,31.8],[43.9,33.1],[45,29.9],[45.9,30.3],[46.9,31.9],[48,32.4],[49,32.5],[49.9,32],[51,32.4],[52.9,32.4],[54,32.9],[55,32],[57,32.7],[58,32.8],[59.4,29.1],[60,28],[61,28.5],[62.2,23.5],[63.6,26.4],[65,28],[66,28.6],[67.2,29.3],[69.1,30.2],[70,30.9],[71.1,31],[72.2,31.8],[73.1,32.6],[74,32],[75,30.1],[77,27.9],[79.3,26.9],[80.2,26],[81.2,24.8],[82,25.9],[83.1,25.3],[85.2,26.1],[86.3,27],[87.2,26.3],[88.3,26.5],[89.2,27.8],[90.3,28.4],[91.3,26.1],[92.2,29.2],[93.3,28.9],[94.2,30.5],[95.3,30.7],[96.3,26.8],[97.3,24.2],[98.4,23.7],[99.3,20.8],[100.3,21.7],[101.2,26.4],[102.3,24.8],[103.4,22.8],[104.4,22.2],[105.3,22.9],[107.4,17.6],[109.3,22.1],[110.6,21.6],[112,22.7],[113.3,22.8],[114.4,19.4],[115.4,22.1],[116.8,18],[118.2,14.6],[119.4,16.9],[120.6,17.5],[121.3,18.6],[122.3,19.2],[125.1,23],[128.4,17],[129.3,18.8],[132,17.9],[132.9,18.6],[134.5,19.9],[135.6,17.9],[137.4,16.8],[139.4,23.1],[141.4,11.4],[142.4,12.4],[144.5,16.4],[146.4,20.5],[148.5,7.6],[149.5,7.5],[150.6,6.8],[151.6,7.3],[152.6,11],[153.7,8.7],[154.7,7.9],[155.8,9.1],[156.6,9.4],[157.5,11],[158.8,10.8],[159.7,9],[160.6,9.4],[161.8,11.3],[163.7,12.8],[164.6,14],[165.6,14.3],[166.5,15],[167.6,15.4],[168.6,19.8],[169.7,15.3],[170.8,7.6],[171.7,6],[172.7,5.8],[174.6,8.6],[175.5,8],[177.4,10.6],[178.5,9.4],[180.7,6.6],[182.6,12.8],[183.6,8.7],[184.7,8.3],[185.7,9.2],[186.9,8.7],[187.8,9.8],[189.7,17.8],[191.3,9.8],[192.6,6.8],[194,4.9],[194.6,6.1],[195.9,6.2],[196.8,7.6],[197.8,7.8],[199.9,4.3],[201.8,5.5],[202.7,8],[203.7,8.2],[204.8,11.3],[206.3,8.7],[208.2,6],[210,5],[212.7,6],[213.9,8.4],[214.8,8.6],[215.8,9.5],[216.8,10.3],[217.8,10],[218.9,11],[219.9,10.9],[221.9,7.7],[223.8,10.5],[225,9.1],[225.9,10.3],[227.9,16.4],[228.8,17.7],[230,13.6],[231,6.1],[233,8.3],[234,8.8],[235,11.2],[237.1,13.1],[239,19.7],[240,22.4],[241,17.7],[242.3,13.6],[243.2,13.5],[244.2,10.9],[245.1,13.2],[246.1,12.4],[247.6,8.3],[248.9,11.7],[250,11.7],[251,13.4],[253,14.6],[254.1,14.4],[255.2,12.5],[257.1,16.3],[258.1,14.4],[260,15.3],[261.2,14.8],[262.2,16],[262.9,19],[264,19.6],[265.1,23.1],[266.2,22.6],[267.9,17.6],[269.1,21.3],[270,22.4],[271.5,15],[273.2,8.9],[274.4,9.4],[276.3,13.1],[277.7,13.4],[278.7,15.5],[280.1,15.5],[282,17],[283.9,20],[285.1,20.8],[286.6,13.5],[288.2,16],[289.2,16.1],[292.3,25.5],[294,17.6],[295.2,16.9],[296.4,14.3],[297.3,16.5],[299.2,18],[300.2,20],[301.2,23.5],[302.3,23.8],[303.4,20.8],[304.2,24.7],[305.3,26],[306.3,26.7],[307.4,26.8],[308.3,28.7],[309.4,30.1],[310.4,26.8],[311.2,23],[312.3,23.7],[313.4,28],[314.3,23],[315.3,23.3],[317.4,24.9],[318.4,24.3],[319.3,27.3],[320.5,22.5],[322.4,26.8],[323.4,28.7],[324.4,25.8],[325.4,25.1],[326.5,23.3],[327.5,23.8],[329.4,27.4],[330.4,23.8],[331.6,22.8],[332.5,24.9],[333.4,25.8],[334.5,23.8],[335.4,23],[336.4,24.8],[337.3,24.6],[338.3,27.7],[339.2,26],[340.4,26.2],[341.5,25.3],[342.5,26.6],[343.5,27.4],[344.5,26.9],[345.6,27.9],[346.5,27.7],[347.5,28.9],[349.5,31.4],[350.6,31.8],[351.6,31.6],[352.6,31.7],[353.5,32],[354.6,30.1],[355.7,23.5],[358.6,29.6],[359.5,28.6],[360.6,25.2],[361.5,26.8],[362.6,27.8],[363.6,29.3],[364.6,30.3],[365.8,29.2]];

const precip1920 = [[1.8,1.6],[2.7,39.9],[3.7,19.9],[4.8,0.3],[5.8,4.7],[6.8,34.7],[7.8,22.3],[8.8,3.4],[10.9,26.1],[11.7,93.5],[12.8,2.4],[13.8,4.4],[14.9,0.7],[19.8,4.8],[35.9,0.3],[45,22.2],[58,22.8],[59,0.3],[62.1,18.5],[63.1,0.3],[102,0.3],[104,0.2],[107,0.4],[114.3,0.6],[116.3,1.6],[117.4,1],[118.4,2.4],[128.4,0.6],[135.4,0.3],[140.5,3.7],[149.6,11.8],[153.6,3],[170.8,0.3],[171.7,7.5],[172.5,16.4],[173.6,14.2],[174.7,0.9],[175.7,6.8],[177.6,6.2],[178.7,6.8],[180.7,1.4],[183.7,0.3],[186.7,1.2],[187.7,1.7],[190.8,1.4],[192.8,0.5],[193.7,2.8],[194.7,19.7],[198.8,25.2],[199.8,10.4],[205.8,6.4],[206.8,48.5],[207.8,42.1],[208.8,35],[209.8,21.8],[216.9,2.5],[220.8,27.8],[221.8,0.5],[226,13],[227,9.2],[228,1.2],[230,19.3],[231,0.3],[236,2.5],[244,29],[245,7.5],[246,2.1],[247,20.5],[248,0.3],[250,23.9],[251,1.4],[252,18.6],[253,9.1],[254,1.4],[256,5.9],[261,0.4],[265,13.1],[266,4],[269.1,1.9],[270.2,3.7],[271.2,14.2],[272.2,13.6],[273.1,41.4],[274.2,4],[275.2,16],[276.2,0.3],[277.2,1.6],[278.2,1.9],[279.2,6.1],[285.2,1.2],[286.1,19.1],[293.2,13.8],[294.2,23],[295.2,6.7],[296.2,24.9],[297.2,0.7],[298.2,0.4],[306.3,0.2],[310.3,9.9],[311.3,11.6],[312.3,8],[314.3,61.8],[315.3,0.3],[319.3,1.5],[320.3,69],[321.3,0.3],[322.3,0.3],[326.3,8.6],[327.4,1.6],[330.4,2.3],[331.4,24.6],[334.5,21.8],[335.4,40.7],[337.4,1.2],[338.4,2.9],[339.4,34.8],[340.4,0.5],[341.4,1.9],[342.4,0.3],[344.4,5.5],[345.5,20.6],[346.4,25.8],[347.5,9.6],[348.5,1.5],[354.6,17.2],[355.5,21.6],[357.5,14.5],[358.6,4.4],[359.5,6],[360.6,17.2],[361.5,24.4],[362.6,10.6],[363.6,6],[365.6,2.5]];

const SVG_NS = 'http://www.w3.org/2000/svg';
const byDay = (a, b) => a[0] - b[0];

// Axis functions, panel 1 (2018-2019)
const x1 = d => 224.5 + d * 7.466;
const yT1 = t => 1539 - t * 32.72;
const yP1 = p => 1700 - p * 12.63;
// Axis functions, panel 2 (2019-2020)
const x2 = d => 237 + d * 7.41;
const yT2 = t => 3395 - t * 32.75;
const yP2 = p => 3556 - p * 12.55;

function drawLine(parent, rows, xf, yf, colour, name) {
  const pts = rows.slice().sort(byDay).map(r => xf(r[0]).toFixed(1) + ',' + yf(r[1]).toFixed(1)).join(' ');
  const el = document.createElementNS(SVG_NS, 'polyline');
  
  
  el.setAttribute('points', pts);
  el.setAttribute('fill', 'none');
  el.setAttribute('stroke', colour);
  el.setAttribute('stroke-width', '9');
  el.setAttribute('stroke-linejoin', 'miter');
  el.setAttribute('stroke-miterlimit', '3');
  parent.appendChild(el);
}

function drawBars(parent, rows, xf, yf, width, name) {
  rows.forEach(r => {
    const top = yf(r[1]);
    const base = yf(0);
    const el = document.createElementNS(SVG_NS, 'rect');
    
    
    el.setAttribute('x', (xf(r[0]) - width / 2).toFixed(1));
    el.setAttribute('y', top.toFixed(1));
    el.setAttribute('width', width);
    el.setAttribute('height', (base - top).toFixed(1));
    el.setAttribute('fill', '#1a5033');
    parent.appendChild(el);
  });
}

const marks1 = document.getElementById('marks1');
drawLine(marks1, maxTemp1819, x1, yT1, '#ff0000', 'max-temperature-line');
drawLine(marks1, minTemp1819, x1, yT1, '#0e3160', 'min-temperature-line');
drawLine(marks1, meanTemp1819, x1, yT1, '#858585', 'mean-temperature-line');
drawBars(marks1, precip1819, x1, yP1, 13, 'precipitation-bar');

const marks2 = document.getElementById('marks2');
drawLine(marks2, maxTemp1920, x2, yT2, '#ff0000', 'max-temperature-line');
drawLine(marks2, minTemp1920, x2, yT2, '#0e3160', 'min-temperature-line');
drawLine(marks2, meanTemp1920, x2, yT2, '#858585', 'mean-temperature-line');
drawBars(marks2, precip1920, x2, yP2, 8, 'precipitation-bar');
</script>
</body>
</html>
